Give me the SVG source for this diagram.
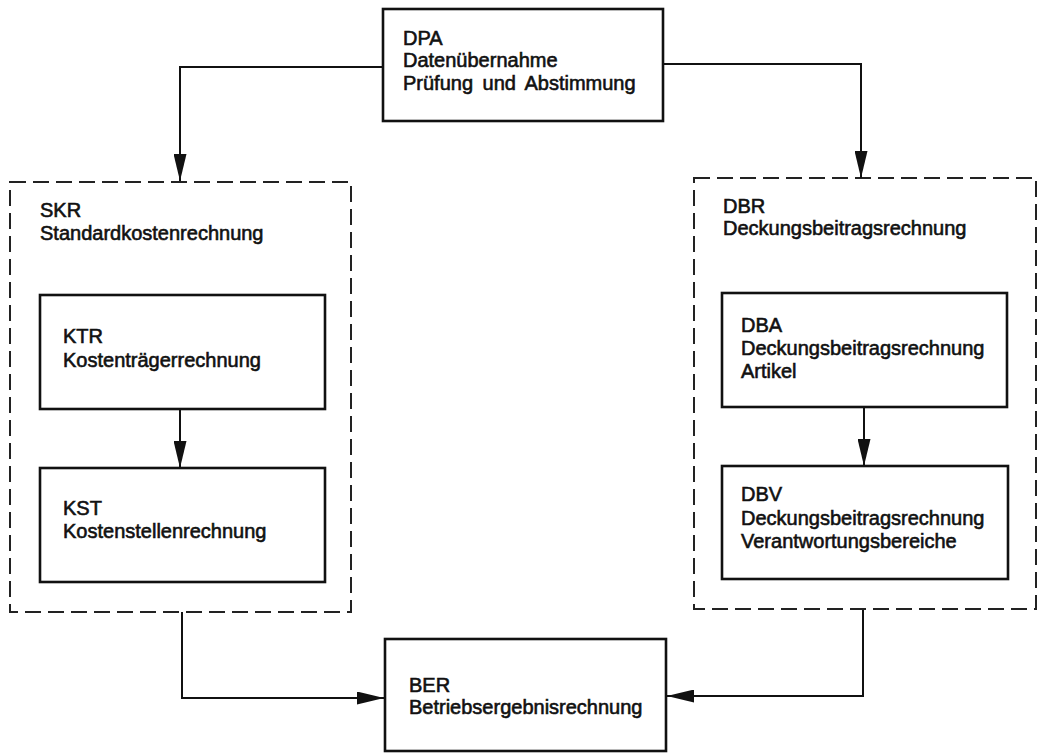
<svg xmlns="http://www.w3.org/2000/svg" width="1040" height="753" viewBox="0 0 1040 753">
  <style>
    .box { fill: none; stroke: #111; stroke-width: 2.6; }
    .group { fill: none; stroke: #222; stroke-width: 2; stroke-dasharray: 16 7; }
    .link { fill: none; stroke: #111; stroke-width: 2; }
    text { font-family: "Liberation Sans", Arial, sans-serif; font-size: 20px; fill: #111; stroke: #111; stroke-width: 0.6; word-spacing: 4px; }
  </style>
  <defs>
    <marker id="arrow" markerUnits="userSpaceOnUse" markerWidth="27" markerHeight="13" refX="27" refY="6.5" orient="auto">
      <path d="M0,0 L27,6.5 L0,13 Z" fill="#111"/>
    </marker>
  </defs>
  <rect width="1040" height="753" fill="#fff"/>

  <g id="DPA">
    <rect class="box" x="383" y="9" width="280" height="112"/>
    <text x="403" y="45">DPA</text>
    <text x="403" y="67">Datenübernahme</text>
    <text x="403" y="90">Prüfung und Abstimmung</text>
  </g>

  <g id="SKR">
    <rect class="group" x="10" y="182" width="341" height="430"/>
    <text x="40" y="217">SKR</text>
    <text x="40" y="240">Standardkostenrechnung</text>
  </g>

  <g id="KTR">
    <rect class="box" x="40" y="295" width="285" height="114"/>
    <text x="63" y="343">KTR</text>
    <text x="63" y="367">Kostenträgerrechnung</text>
  </g>

  <g id="KST">
    <rect class="box" x="40" y="468" width="285" height="114"/>
    <text x="63" y="515">KST</text>
    <text x="63" y="538">Kostenstellenrechnung</text>
  </g>

  <g id="DBR">
    <rect class="group" x="694" y="178" width="342" height="431"/>
    <text x="723" y="213">DBR</text>
    <text x="723" y="235">Deckungsbeitragsrechnung</text>
  </g>

  <g id="DBA">
    <rect class="box" x="722" y="293" width="285" height="114"/>
    <text x="741" y="332">DBA</text>
    <text x="741" y="355">Deckungsbeitragsrechnung</text>
    <text x="741" y="378">Artikel</text>
  </g>

  <g id="DBV">
    <rect class="box" x="722" y="466" width="286" height="113"/>
    <text x="741" y="501">DBV</text>
    <text x="741" y="525">Deckungsbeitragsrechnung</text>
    <text x="741" y="548">Verantwortungsbereiche</text>
  </g>

  <g id="BER">
    <rect class="box" x="385" y="639" width="281" height="112"/>
    <text x="409" y="692">BER</text>
    <text x="409" y="714">Betriebsergebnisrechnung</text>
  </g>

  <g id="connectors">
    <path class="link" d="M383,67 H180 V181" marker-end="url(#arrow)"/>
    <path class="link" d="M663,64 H861 V178" marker-end="url(#arrow)"/>
    <path class="link" d="M180,409 V468" marker-end="url(#arrow)"/>
    <path class="link" d="M864,407 V466" marker-end="url(#arrow)"/>
    <path class="link" d="M182,612 V698 H384" marker-end="url(#arrow)"/>
    <path class="link" d="M863,610 V696 H667" marker-end="url(#arrow)"/>
  </g>
</svg>
